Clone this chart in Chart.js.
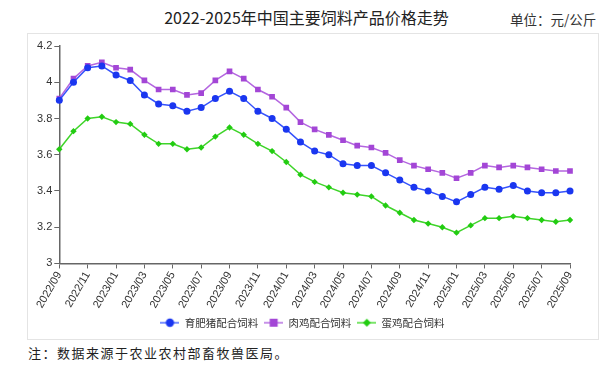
<!DOCTYPE html>
<html>
<head>
<meta charset="utf-8">
<script src="https://cdn.jsdelivr.net/npm/chart.js@4.4.1/dist/chart.umd.min.js"></script>
<style>
  body { margin: 0; background: #fff; width: 613px; height: 366px; position: relative; overflow: hidden; font-family: "Noto Sans CJK SC", sans-serif; }
  #title { position: absolute; left: 0; width: 613px; top: 5px; text-align: center; font-size: 16px; color: #222; }
  #unit { position: absolute; left: 510px; top: 9px; font-size: 13.5px; color: #333; }
  #box { position: absolute; left: 27px; top: 33px; width: 570px; height: 305px; border: 1px solid #e4e4e4; }
  #note { position: absolute; left: 28px; top: 343px; font-size: 13px; letter-spacing: 1.5px; color: #222; }
</style>
</head>
<body>
<div id="title">2022-2025年中国主要饲料产品价格走势</div>
<div id="unit">单位：元/公斤</div>
<div id="box"><canvas id="mycanvas" width="570" height="305"></canvas></div>
<div id="note">注：数据来源于农业农村部畜牧兽医局。</div>
<script>
var months = ['2022/09','2022/10','2022/11','2022/12','2023/01','2023/02','2023/03','2023/04','2023/05','2023/06','2023/07','2023/08',
  '2023/09','2023/10','2023/11','2023/12','2024/01','2024/02','2024/03','2024/04','2024/05','2024/06','2024/07','2024/08',
  '2024/09','2024/10','2024/11','2024/12','2025/01','2025/02','2025/03','2025/04','2025/05','2025/06','2025/07','2025/08','2025/09'];

// 育肥猪配合饲料
var pig = [3.90,4.00,4.08,4.09,4.04,4.01,3.93,3.88,3.87,3.84,3.86,3.91,
  3.95,3.91,3.84,3.80,3.74,3.67,3.62,3.60,3.55,3.54,3.54,3.50,
  3.46,3.42,3.40,3.37,3.34,3.38,3.42,3.41,3.43,3.40,3.39,3.39,3.40];
// 肉鸡配合饲料
var broiler = [3.91,4.02,4.09,4.11,4.08,4.07,4.01,3.96,3.96,3.93,3.94,4.01,
  4.06,4.02,3.96,3.92,3.86,3.78,3.74,3.71,3.68,3.65,3.64,3.61,
  3.57,3.54,3.52,3.50,3.47,3.50,3.54,3.53,3.54,3.53,3.52,3.51,3.51];
// 蛋鸡配合饲料
var layer = [3.63,3.73,3.80,3.81,3.78,3.77,3.71,3.66,3.66,3.63,3.64,3.70,
  3.75,3.71,3.66,3.62,3.56,3.49,3.45,3.42,3.39,3.38,3.37,3.32,
  3.28,3.24,3.22,3.20,3.17,3.21,3.25,3.25,3.26,3.25,3.24,3.23,3.24];

var names = ['育肥猪配合饲料', '肉鸡配合饲料', '蛋鸡配合饲料'];
var yTicks = [3, 3.2, 3.4, 3.6, 3.8, 4, 4.2];

function legendIcon(lineColor, fill, style) {
  var c = document.createElement('canvas');
  c.width = 19; c.height = 12;
  var g = c.getContext('2d');
  g.strokeStyle = lineColor; g.lineWidth = 1.5;
  g.beginPath(); g.moveTo(0, 6); g.lineTo(19, 6); g.stroke();
  g.fillStyle = fill;
  g.beginPath();
  if (style === 'circle') g.arc(9.5, 6, 4.2, 0, Math.PI * 2);
  else if (style === 'rect') g.rect(5.5, 2, 8, 8);
  else { g.moveTo(9.5, 2); g.lineTo(13.5, 6); g.lineTo(9.5, 10); g.lineTo(5.5, 6); g.closePath(); }
  g.fill();
  return c;
}

var icons = [
  legendIcon('#4f6bff', '#1a36f0', 'circle'),
  legendIcon('#b56ee0', '#a346d6', 'rect'),
  legendIcon('#4fdc3a', '#22cc11', 'diamond')
];

var ctx = document.getElementById('mycanvas');
var chart = new Chart(ctx, {
  type: 'line',
  data: {
    labels: months,
    datasets: [
      { label: names[0], data: pig, borderColor: '#3552fb', backgroundColor: '#1a36f0', borderWidth: 1.5,
        pointStyle: 'circle', pointRadius: 3.5, pointBorderWidth: 0, tension: 0 },
      { label: names[1], data: broiler, borderColor: '#b466e0', backgroundColor: '#a346d6', borderWidth: 1.5,
        pointStyle: 'rect', pointRadius: 4, pointBorderWidth: 0, tension: 0 },
      { label: names[2], data: layer, borderColor: '#3fd42a', backgroundColor: '#22cc11', borderWidth: 1.5,
        pointStyle: 'rectRot', pointRadius: 3.2, pointBorderWidth: 0, tension: 0 }
    ]
  },
  options: {
    responsive: false,
    animation: false,
    layout: { padding: { left: 7, right: 28, top: 12, bottom: 1 } },
    plugins: {
      tooltip: { enabled: false },
      legend: {
        position: 'bottom',
        labels: {
          usePointStyle: true,
          pointStyleWidth: 19,
          boxHeight: 10,
          padding: 6,
          color: '#333',
          font: { family: '"Noto Sans CJK SC", sans-serif', size: 10.5 },
          generateLabels: function(ch) {
            return ch.data.datasets.map(function(ds, i) {
              return { text: ds.label, pointStyle: icons[i], fillStyle: ds.backgroundColor,
                strokeStyle: ds.borderColor, lineWidth: 0, fontColor: '#333', datasetIndex: i, hidden: false };
            });
          }
        }
      }
    },
    scales: {
      x: {
        offset: false,
        grid: { display: true, drawOnChartArea: false, tickLength: 5, color: '#666' },
        border: { color: '#666', width: 1.5 },
        ticks: {
          autoSkip: false, maxRotation: 60, minRotation: 60, padding: 1, color: '#333',
          font: { family: '"Liberation Sans", sans-serif', size: 11 },
          callback: function(v, i) { return i % 2 === 0 ? months[i] : null; }
        }
      },
      y: {
        min: 3, max: 4.2,
        afterBuildTicks: function(axis) { axis.ticks = yTicks.map(function(v) { return { value: v }; }); },
        grid: { display: true, drawOnChartArea: false, tickLength: 5, color: '#666' },
        border: { color: '#666', width: 1.5 },
        ticks: { padding: 2, color: '#333', font: { family: '"Liberation Sans", sans-serif', size: 11 },
          callback: function(v) { return String(Math.round(v * 10) / 10); } }
      }
    }
  }
});
</script>
</body>
</html>
